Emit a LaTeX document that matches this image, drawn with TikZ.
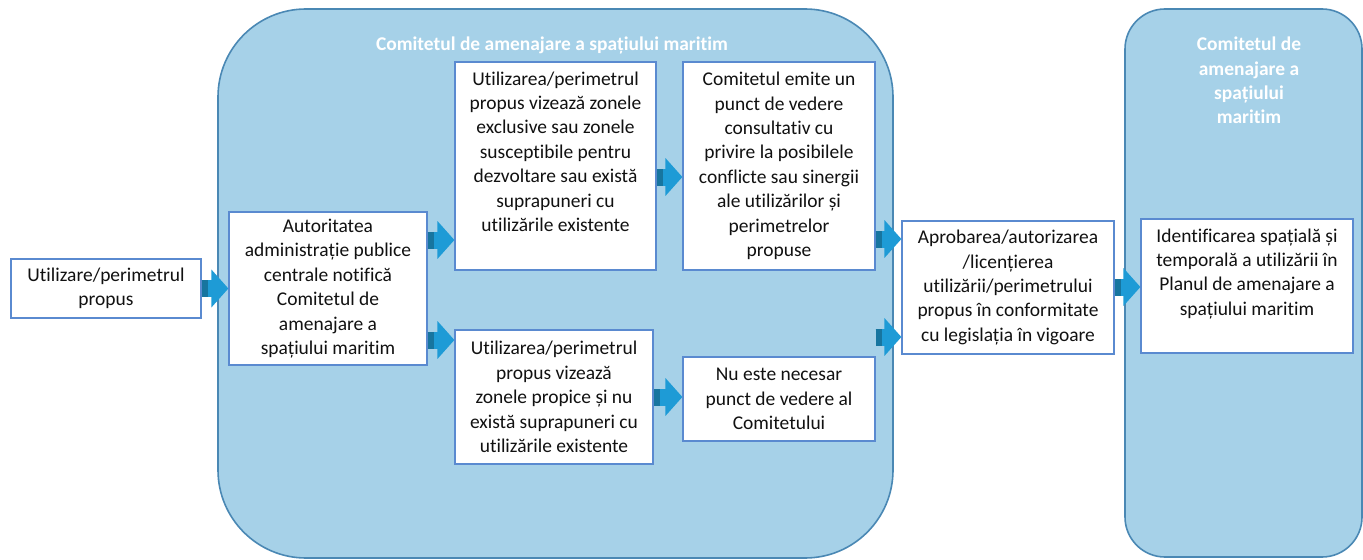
\documentclass[tikz,border=0pt]{standalone}
\usepackage{fontspec}
\setmainfont{Carlito}[RawFeature={-liga;-clig;-calt;-dlig}]
\usetikzlibrary{arrows.meta}
\definecolor{panelfill}{HTML}{A6D1E8}
\definecolor{paneldraw}{HTML}{4A88B4}
\definecolor{boxdraw}{HTML}{5A8AD0}
\definecolor{arrowfill}{HTML}{1E9BD6}
\definecolor{arrowdark}{HTML}{17759F}
\definecolor{txtcol}{HTML}{111111}
\tikzset{
  panel/.style={fill=panelfill, draw=paneldraw, line width=1.2pt},
  box/.style={draw=boxdraw, fill=white, line width=0.9pt, inner sep=0pt,
    align=center, font=\fontsize{14.6}{18.3}\selectfont, text=txtcol},
  txt/.style={align=center, font=\fontsize{14.6}{18.3}\selectfont, text=txtcol, inner sep=0pt},
  ttl/.style={align=center, font=\fontsize{14.6}{18.3}\selectfont\bfseries, text=white, inner sep=0pt},
  barrow/.style={draw=arrowfill, line width=12.75pt, -{Triangle[width=27.75pt,length=12.75pt]}},
  bdark/.style={draw=arrowdark, line width=12.75pt}
}
\newcommand\blockarrow[2]{\draw[barrow] #1 -- #2; \draw[bdark] #1 -- ++(6,0);}
\begin{document}
\begin{tikzpicture}[x=0.75pt,y=-0.75pt]
\useasboundingbox (0,0) rectangle (1363,560);
% panels
\draw[panel, rounded corners=66pt] (218,9) rectangle (893,558);
\draw[panel, rounded corners=30pt] (1125,9) rectangle (1362,557);
\node[ttl] (T1) at (552,45) {Comitetul de amenajare a spațiului maritim};
\node[ttl] (T2) at (1249,80.5) {Comitetul de\\amenajare a\\spațiului\\maritim};
% boxes
\node[box, minimum width=142.5pt, minimum height=44.25pt] (A) at (106,288.5)
  {Utilizare/perimetrul\\propus};
\node[box, minimum width=148.5pt, minimum height=114.75pt] (B) at (328,288.5)
  {Autoritatea\\administrație publice\\centrale notifică\\Comitetul de\\amenajare a\\spațiului maritim};
\node[box, minimum width=150.75pt, minimum height=156pt] (C) at (555.5,166) {};
\node[txt, anchor=north] (Ct) at ([yshift=-7.5pt]C.north)
  {Utilizarea/perimetrul\\propus vizează zonele\\exclusive sau zonele\\susceptibile pentru\\dezvoltare sau există\\suprapuneri cu\\utilizările existente};
\node[box, minimum width=144pt, minimum height=156pt] (D) at (779,166)
  {Comitetul emite un\\punct de vedere\\consultativ cu\\privire la posibilele\\conflicte sau sinergii\\ale utilizărilor și\\perimetrelor\\propuse};
\node[box, minimum width=148.5pt, minimum height=100.5pt] (E) at (554,397)
  {Utilizarea/perimetrul\\propus vizează\\zonele propice și nu\\există suprapuneri cu\\utilizările existente};
\node[box, minimum width=144pt, minimum height=63pt] (F) at (779,399)
  {Nu este necesar\\punct de vedere al\\Comitetului};
\node[box, minimum width=159pt, minimum height=99.75pt] (G) at (1008,287.5)
  {Aprobarea/autorizarea\\/licențierea\\utilizării/perimetrului\\propus în conformitate\\cu legislația în vigoare};
\node[box, minimum width=159pt, minimum height=100.5pt] (H) at (1247,286) {};
\node[txt, anchor=north] (Ht) at ([yshift=-7.5pt]H.north)
  {Identificarea spațială și\\temporală a utilizării în\\Planul de amenajare a\\spațiului maritim};
% arrows
\blockarrow{(A.east)}{(A.east -| B.west)}
\blockarrow{(B.east |- 0,240)}{(C.west |- 0,240)}
\blockarrow{(B.east |- 0,340)}{(E.west |- 0,340)}
\blockarrow{(C.east |- 0,177)}{(D.west |- 0,177)}
\blockarrow{(E.east |- 0,397)}{(F.west |- 0,397)}
\blockarrow{(D.east |- 0,239)}{(G.west |- 0,239)}
\blockarrow{(D.east |- 0,337)}{(G.west |- 0,337)}
\blockarrow{(G.east |- 0,287)}{(H.west |- 0,287)}
\end{tikzpicture}
\end{document}
